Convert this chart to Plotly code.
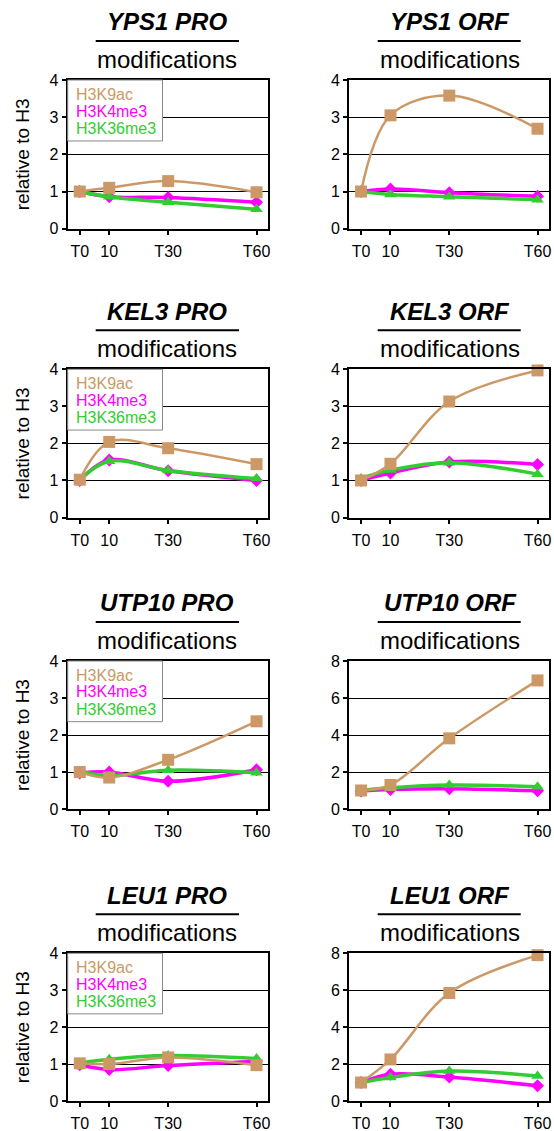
import plotly.graph_objects as go

# ---------------- data ----------------
times = [0, 10, 30, 60]
tick_labels = ["T0", "10", "T30", "T60"]

genes = ["YPS1", "KEL3", "UTP10", "LEU1"]
regions = ["PRO", "ORF"]
series_names = ["H3K9ac", "H3K4me3", "H3K36me3"]

yps1_pro_k9ac = [1.00, 1.10, 1.28, 0.98]
yps1_pro_k4me3 = [1.00, 0.86, 0.84, 0.71]
yps1_pro_k36me3 = [1.00, 0.86, 0.71, 0.52]
yps1_orf_k9ac = [1.00, 3.05, 3.58, 2.69]
yps1_orf_k4me3 = [1.00, 1.07, 0.97, 0.87]
yps1_orf_k36me3 = [1.00, 0.92, 0.86, 0.78]

kel3_pro_k9ac = [1.02, 2.04, 1.87, 1.44]
kel3_pro_k4me3 = [1.00, 1.55, 1.26, 1.00]
kel3_pro_k36me3 = [1.02, 1.52, 1.27, 1.05]
kel3_orf_k9ac = [1.00, 1.45, 3.13, 3.97]
kel3_orf_k4me3 = [1.00, 1.20, 1.50, 1.43]
kel3_orf_k36me3 = [1.05, 1.28, 1.48, 1.17]

utp10_pro_k9ac = [1.00, 0.85, 1.33, 2.37]
utp10_pro_k4me3 = [0.97, 1.00, 0.75, 1.06]
utp10_pro_k36me3 = [1.02, 0.90, 1.05, 0.98]
utp10_orf_k9ac = [1.00, 1.30, 3.82, 6.95]
utp10_orf_k4me3 = [0.97, 1.05, 1.10, 0.98]
utp10_orf_k36me3 = [1.00, 1.15, 1.30, 1.20]

leu1_pro_k9ac = [1.02, 1.00, 1.18, 0.97]
leu1_pro_k4me3 = [0.98, 0.85, 0.96, 1.07]
leu1_pro_k36me3 = [1.03, 1.13, 1.23, 1.15]
leu1_orf_k9ac = [1.00, 2.25, 5.85, 7.90]
leu1_orf_k4me3 = [1.00, 1.45, 1.30, 0.82]
leu1_orf_k36me3 = [1.00, 1.27, 1.62, 1.35]

panel_data = {
    ("YPS1", "PRO"): (yps1_pro_k9ac, yps1_pro_k4me3, yps1_pro_k36me3),
    ("YPS1", "ORF"): (yps1_orf_k9ac, yps1_orf_k4me3, yps1_orf_k36me3),
    ("KEL3", "PRO"): (kel3_pro_k9ac, kel3_pro_k4me3, kel3_pro_k36me3),
    ("KEL3", "ORF"): (kel3_orf_k9ac, kel3_orf_k4me3, kel3_orf_k36me3),
    ("UTP10", "PRO"): (utp10_pro_k9ac, utp10_pro_k4me3, utp10_pro_k36me3),
    ("UTP10", "ORF"): (utp10_orf_k9ac, utp10_orf_k4me3, utp10_orf_k36me3),
    ("LEU1", "PRO"): (leu1_pro_k9ac, leu1_pro_k4me3, leu1_pro_k36me3),
    ("LEU1", "ORF"): (leu1_orf_k9ac, leu1_orf_k4me3, leu1_orf_k36me3),
}
y_max = {
    ("YPS1", "PRO"): 4, ("YPS1", "ORF"): 4,
    ("KEL3", "PRO"): 4, ("KEL3", "ORF"): 4,
    ("UTP10", "PRO"): 4, ("UTP10", "ORF"): 8,
    ("LEU1", "PRO"): 4, ("LEU1", "ORF"): 8,
}

# ---------------- style ----------------
W, H = 554, 1131
FONT = "Liberation Sans, Arial, Helvetica, sans-serif"
colors = {"H3K9ac": "#CC9966", "H3K4me3": "#FF00FF", "H3K36me3": "#33CC33"}
symbols = {"H3K9ac": "square", "H3K4me3": "diamond", "H3K36me3": "triangle-up"}
msizes = {"H3K9ac": 12, "H3K4me3": 10, "H3K36me3": 11}
lwidths = {"H3K9ac": 2.5, "H3K4me3": 3.5, "H3K36me3": 3.5}
draw_order = ["H3K4me3", "H3K36me3", "H3K9ac"]

col_px = [(67.7, 268.3), (349.0, 549.3)]
row_px = [(80.0, 228.7), (369.3, 517.5), (661.0, 809.0), (953.3, 1101.0)]
title_center_x = [167.0, 450.0]
underline_px = [(95.7, 239.0), (377.7, 520.7)]

fig = go.Figure()
annotations = []
shapes = []
layout_axes = {}

for r, gene in enumerate(genes):
    for c, region in enumerate(regions):
        i = r * 2 + c
        sfx = "" if i == 0 else str(i + 1)
        vals = dict(zip(series_names, panel_data[(gene, region)]))
        for name in draw_order:
            fig.add_trace(go.Scatter(
                x=times, y=vals[name], mode="lines+markers", name=name,
                line=dict(color=colors[name], width=lwidths[name], shape="spline", smoothing=1.0),
                marker=dict(symbol=symbols[name], size=msizes[name], color=colors[name],
                            line=dict(width=0)),
                xaxis="x" + sfx, yaxis="y" + sfx, showlegend=False, cliponaxis=False,
            ))
        x0, x1 = col_px[c]
        top, bot = row_px[r]
        ymax = y_max[(gene, region)]
        ystep = 1 if ymax == 4 else 2
        layout_axes["xaxis" + sfx] = dict(
            domain=[x0 / W, x1 / W], anchor="y" + sfx, range=[-4.1, 64.0],
            tickvals=times, ticktext=tick_labels, ticks="outside", ticklen=4,
            tickwidth=1.5, tickcolor="black", showgrid=False, zeroline=False,
            showline=True, linewidth=2, linecolor="black", mirror=True,
            tickfont=dict(family=FONT, size=16, color="black"), fixedrange=True,
            automargin=False, ticklabelstandoff=3,
        )
        layout_axes["yaxis" + sfx] = dict(
            domain=[1 - bot / H, 1 - top / H], anchor="x" + sfx, range=[0, ymax],
            tickvals=list(range(0, ymax + 1, ystep)), ticks="outside", ticklen=4,
            tickwidth=1.5, tickcolor="black", showgrid=True, gridcolor="black",
            gridwidth=1, zeroline=False, showline=True, linewidth=2,
            linecolor="black", mirror=True,
            tickfont=dict(family=FONT, size=16, color="black"), fixedrange=True,
            automargin=False,
        )
        # titles
        top_paper = 1 - top / H
        annotations.append(dict(
            text="<b><i>%s %s</i></b>" % (gene, region), xref="paper", yref="paper",
            x=title_center_x[c] / W, y=top_paper + 58.3 / H, xanchor="center", yanchor="middle",
            showarrow=False, font=dict(family=FONT, size=24, color="black")))
        annotations.append(dict(
            text="modifications", xref="paper", yref="paper",
            x=title_center_x[c] / W, y=top_paper + 20.5 / H, xanchor="center", yanchor="middle",
            showarrow=False, font=dict(family=FONT, size=24, color="black")))
        ux0, ux1 = underline_px[c]
        shapes.append(dict(type="line", xref="paper", yref="paper",
                           x0=ux0 / W, x1=ux1 / W, y0=top_paper + 39 / H, y1=top_paper + 39 / H,
                           line=dict(color="black", width=2)))
        if c == 0:
            # legend box and entries
            xr, yr = "x" + sfx + " domain", "y" + sfx + " domain"
            shapes.append(dict(type="rect", xref=xr, yref=yr, x0=0, x1=0.4726, y0=0.59, y1=1,
                               fillcolor="white", line=dict(color="#888888", width=1),
                               layer="above"))
            for k, (name, ypos) in enumerate(zip(series_names, [0.904, 0.7915, 0.675])):
                annotations.append(dict(
                    text=name, xref=xr, yref=yr, x=0.03, y=ypos, xanchor="left",
                    yanchor="middle", showarrow=False,
                    font=dict(family=FONT, size=16, color=colors[name])))
            annotations.append(dict(
                text="relative to H3", xref="paper", yref="paper", x=22 / W,
                y=1 - (top + bot) / 2 / H, xanchor="center", yanchor="middle",
                textangle=-90, showarrow=False, font=dict(family=FONT, size=19, color="black")))

fig.update_layout(
    width=W, height=H, margin=dict(l=0, r=0, t=0, b=0, autoexpand=False),
    paper_bgcolor="white", plot_bgcolor="white",
    annotations=annotations, shapes=shapes, showlegend=False,
    font=dict(family=FONT, color="black"),
    **layout_axes,
)
fig.write_html("out.html")
